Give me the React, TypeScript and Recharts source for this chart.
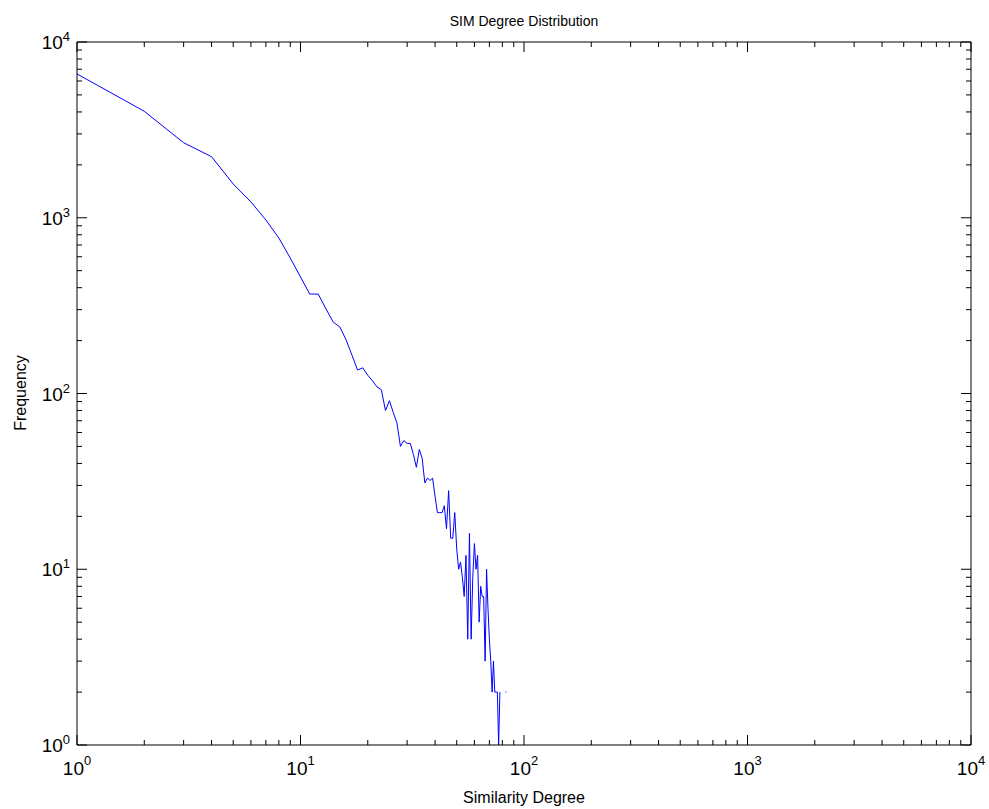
import { ComposedChart, Line, XAxis, YAxis } from 'recharts';

// similarity degree (x) and how many nodes have it (y); null = zero count, not drawable on log axis
const degrees = [
  1, 2, 3, 4, 5, 6, 7, 8, 9, 10,
  11, 12, 13, 14, 15, 16, 17, 18, 19, 20,
  21, 22, 23, 24, 25, 26, 27, 28, 29, 30,
  31, 32, 33, 34, 35, 36, 37, 38, 39, 40,
  41, 42, 43, 44, 45, 46, 47, 48, 49, 50,
  51, 52, 53, 54, 55, 56, 57, 58, 59, 60,
  61, 62, 63, 64, 65, 66, 67, 68, 69, 70,
  71, 72, 73, 74, 75, 76, 77, 78, 79, 80,
  81, 82, 83,
];
const counts: (number | null)[] = [
  6580, 4035, 2673, 2225, 1556, 1230, 971, 767, 590, 460,
  368, 368, 303, 255, 239, 202, 165, 136, 140, 127,
  118, 109, 105, 80, 91, 78, 68, 50, 54, 52,
  52, 45, 38, 48, 43, 31, 33, 32, 33, 26,
  21, 21, 21, 23, 17, 28, 15, 15, 21, 13,
  10, 11, 9, 7, 12, 4, 16, 4, 9, 14,
  10, 12, 5, 8, 7, 7, 3, 10, 6, 4,
  3, 2, 3, 2, 2, 2, 1, 2, null, null,
  null, null, 2,
];

const majorTicks = [1, 10, 100, 1000, 10000];
const minorSteps = [2, 3, 4, 5, 6, 7, 8, 9];
const allTicks = majorTicks.flatMap((m, i) =>
  i === majorTicks.length - 1 ? [m] : [m, ...minorSteps.map((s) => m * s)]
);

const data = degrees.map((d, i) => ({ d, v: counts[i] }));

const FONT = '"Liberation Sans", Arial, Helvetica, sans-serif';
const exp = (v: number) => Math.round(Math.log10(v));
const isMajor = (v: number) => majorTicks.includes(v);

function BottomTick({ x, y, payload }: any) {
  const major = isMajor(payload.value);
  return (
    <g>
      <line x1={x} x2={x} y1={y} y2={y - (major ? 10 : 5)} stroke="#000" />
      {major && (
        <text x={x} y={y + 30} textAnchor="middle" fontFamily={FONT} fontSize={19} fill="#000">
          10<tspan dy={-10} fontSize={13}>{exp(payload.value)}</tspan>
        </text>
      )}
    </g>
  );
}

function TopTick({ x, y, payload }: any) {
  const major = isMajor(payload.value);
  return <line x1={x} x2={x} y1={y} y2={y + (major ? 10 : 5)} stroke="#000" />;
}

function LeftTick({ x, y, payload }: any) {
  const major = isMajor(payload.value);
  return (
    <g>
      <line x1={x} x2={x + (major ? 10 : 5)} y1={y} y2={y} stroke="#000" />
      {major && (
        <text x={x - 7} y={y + 7} textAnchor="end" fontFamily={FONT} fontSize={19} fill="#000">
          10<tspan dy={-8} fontSize={13}>{exp(payload.value)}</tspan>
        </text>
      )}
    </g>
  );
}

function RightTick({ x, y, payload }: any) {
  const major = isMajor(payload.value);
  return <line x1={x} x2={x - (major ? 10 : 5)} y1={y} y2={y} stroke="#000" />;
}

// a count surrounded by zeros has no segment to draw, so show it as a speck
function LoneDot(props: any) {
  const { cx, cy, index } = props;
  const prev = counts[index - 1];
  const next = counts[index + 1];
  if (counts[index] == null || prev != null || next != null || cy == null) return <g key={index} />;
  return <rect key={index} x={cx - 0.5} y={cy - 0.5} width={1} height={1} fill="#0000ff" />;
}

export default function App() {
  return (
    <div style={{ position: 'absolute', left: 0, top: 0, width: 989, height: 809, background: '#fff' }}>
      <ComposedChart width={989} height={809} data={data} margin={{ top: 41, right: 17, bottom: 0, left: 0 }}>
        <XAxis
          xAxisId="b" dataKey="d" type="number" scale="log" domain={[1, 10000]} allowDataOverflow
          ticks={allTicks} interval={0} height={64} tickSize={0} tickMargin={0} tickLine={false}
          axisLine={{ stroke: '#000' }} tick={<BottomTick />}
        />
        <XAxis
          xAxisId="t" orientation="top" dataKey="d" type="number" scale="log" domain={[1, 10000]} allowDataOverflow
          ticks={allTicks} interval={0} height={1} tickSize={0} tickMargin={0} tickLine={false}
          axisLine={{ stroke: '#000' }} tick={<TopTick />}
        />
        <YAxis
          yAxisId="l" type="number" scale="log" domain={[1, 10000]} allowDataOverflow
          ticks={allTicks} interval={0} width={77} tickSize={0} tickMargin={0} tickLine={false}
          axisLine={{ stroke: '#000' }} tick={<LeftTick />}
        />
        <YAxis
          yAxisId="r" orientation="right" type="number" scale="log" domain={[1, 10000]} allowDataOverflow
          ticks={allTicks} interval={0} width={1} tickSize={0} tickMargin={0} tickLine={false}
          axisLine={{ stroke: '#000' }} tick={<RightTick />}
        />
        <Line
          xAxisId="b" yAxisId="l" dataKey="v" type="linear" stroke="#0000ff" strokeWidth={1}
          dot={LoneDot} activeDot={false} connectNulls={false} isAnimationActive={false}
        />
      </ComposedChart>
      <svg width={989} height={809} style={{ position: 'absolute', left: 0, top: 0, pointerEvents: 'none' }}>
        <text x={524} y={26} textAnchor="middle" fontFamily={FONT} fontSize={14} fill="#000">
          SIM Degree Distribution
        </text>
        <text x={524} y={803} textAnchor="middle" fontFamily={FONT} fontSize={16} fill="#000">
          Similarity Degree
        </text>
        <text x={26} y={393} textAnchor="middle" fontFamily={FONT} fontSize={16} fill="#000" transform="rotate(-90 26 393)">
          Frequency
        </text>
      </svg>
    </div>
  );
}
